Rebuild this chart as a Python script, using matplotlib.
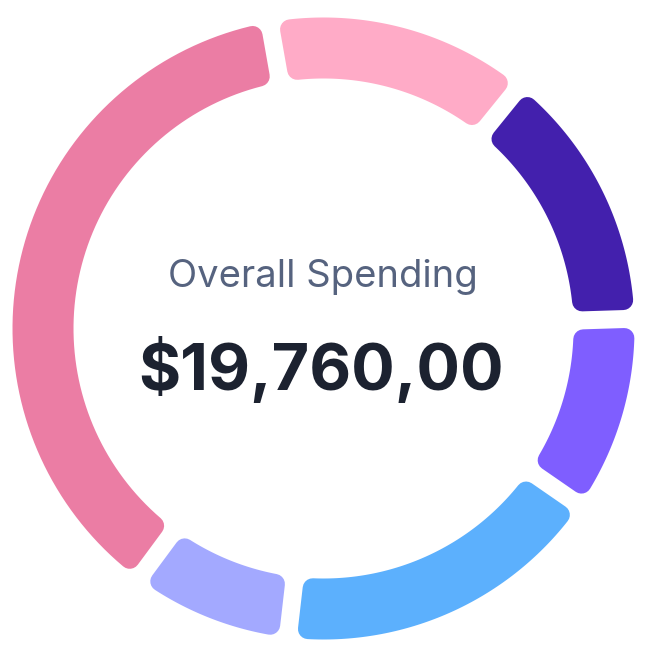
import math
import matplotlib.pyplot as plt
from matplotlib.patches import Polygon

# spending per slice, clockwise from the top
amounts = [2690, 2700, 2000, 3400, 1640, 7330]
colors = ["#FFABC7", "#4320AD", "#7F5EFF", "#5CB0FD", "#A3A9FF", "#EB7DA4"]
title = "Overall Spending"
total_label = "$19,760,00"

W, H, DPI = 647, 649, 100
cx, cy = 323.5, 328.5
r_out, r_in = 311, 250
gap = 18
corner = 10
start_angle = 350  # degrees clockwise from 12 o'clock


def point(rho, theta):
    t = math.radians(theta)
    return cx + rho * math.sin(t), cy - rho * math.cos(t)


def segment(a0, a1, n=80):
    # shrink the sector by the corner radius, then stroke with round joins
    ro = r_out - corner
    ri = r_in + corner
    off = gap / 2 + corner
    do = math.degrees(math.asin(off / ro))
    di = math.degrees(math.asin(off / ri))
    pts = []
    for i in range(n + 1):
        pts.append(point(ro, a0 + do + (a1 - a0 - 2 * do) * i / n))
    for i in range(n + 1):
        pts.append(point(ri, a1 - di - (a1 - a0 - 2 * di) * i / n))
    return pts


fig = plt.figure(figsize=(W / DPI, H / DPI), dpi=DPI)
ax = fig.add_axes([0, 0, 1, 1])
ax.set_xlim(0, W)
ax.set_ylim(H, 0)
ax.axis("off")

total = sum(amounts)
a = start_angle
for amount, c in zip(amounts, colors):
    span = amount / total * 360
    poly = Polygon(segment(a, a + span), closed=True, fc=c, ec=c,
                   lw=2 * corner * 72 / DPI, joinstyle="round")
    ax.add_patch(poly)
    a += span

ax.text(cx - 1, 287, title, ha="center", va="baseline", fontsize=27.5,
        color="#56637F", family="Inter")
ax.text(cx - 2, 390, total_label, ha="center", va="baseline", fontsize=46.5,
        color="#1C2230", family="Inter", fontweight="bold")

fig.savefig("out.png", dpi=DPI)
